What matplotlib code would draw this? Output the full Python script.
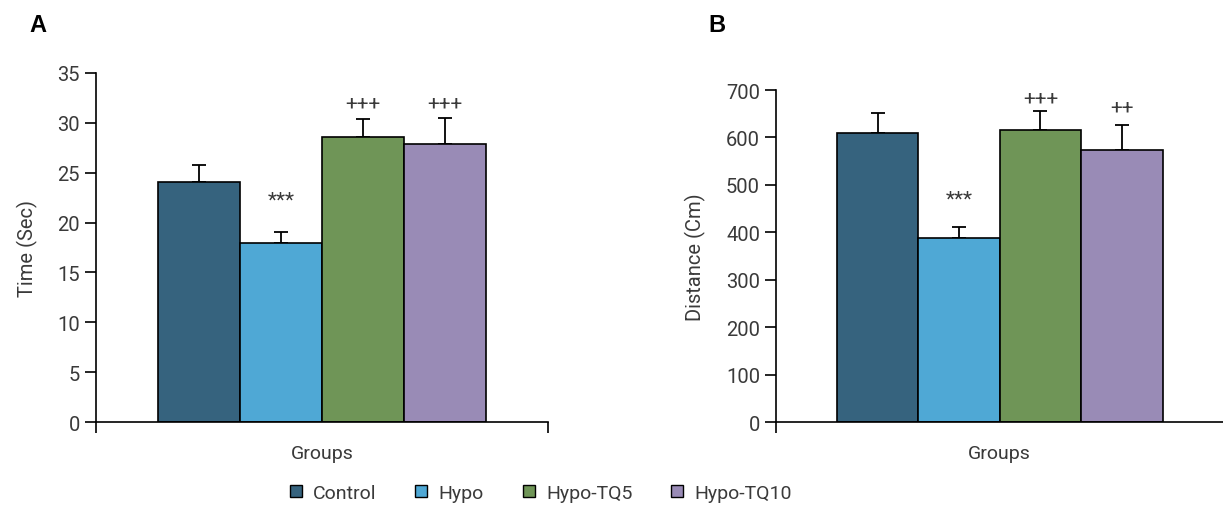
import numpy as np
import matplotlib
matplotlib.use('Agg')
import matplotlib.pyplot as plt
from matplotlib.lines import Line2D

plt.rcParams['font.family'] = ['Roboto', 'DejaVu Sans']
plt.rcParams['font.size'] = 14

groups = ["Control", "Hypo", "Hypo-TQ5", "Hypo-TQ10"]
colors = ["#36637e", "#4fa8d5", "#6f9557", "#998bb6"]

# Panel A: time (sec)
time_means = [24.1, 17.9, 28.6, 27.9]
time_errs = [1.7, 1.1, 1.8, 2.6]
time_marks = ["", "***", "+++", "+++"]
time_mark_y = [None, 22.3, 32.0, 32.0]

# Panel B: distance (cm)
dist_means = [610, 388, 616, 574]
dist_errs = [42, 23, 40, 53]
dist_marks = ["", "***", "+++", "++"]
dist_mark_y = [None, 470, 683, 665]

text_col = "#3a3a3a"


def draw_panel(ax, means, errs, marks, mark_y, ymax, ystep, ylabel):
    x = np.arange(len(groups))
    ax.bar(x, means, width=1.0, color=colors, edgecolor="black", linewidth=1.2, zorder=2)
    ax.errorbar(x, means, yerr=[np.zeros(len(errs)), errs], fmt='none',
                ecolor="black", elinewidth=1.3, capsize=5, capthick=1.3, zorder=1)
    for xi, m, yy in zip(x, marks, mark_y):
        if m:
            ax.text(xi, yy, m, ha='center', va='center', fontsize=15, color=text_col)
    ax.set_xlim(-1.25, 4.25)
    ax.set_ylim(0, ymax)
    ax.set_yticks(np.arange(0, ymax + ystep, ystep))
    ax.set_xticks([-1.25, 4.25])
    ax.set_xticklabels([])
    ax.set_xlabel("Groups", color=text_col, fontsize=14, labelpad=4)
    ax.set_ylabel(ylabel, color=text_col, fontsize=14.5, labelpad=14)
    ax.spines['top'].set_visible(False)
    ax.spines['right'].set_visible(False)
    for s in ['left', 'bottom']:
        ax.spines[s].set_linewidth(1.2)
    ax.tick_params(axis='both', direction='out', length=8, width=1.2,
                   labelsize=14.5, colors='black', labelcolor=text_col)


fig = plt.figure(figsize=(12.23, 5.06), dpi=100)
ax1 = fig.add_axes([0.0785, 0.164, 0.3696, 0.690])
ax2 = fig.add_axes([0.6345, 0.164, 0.3660, 0.656])

draw_panel(ax1, time_means, time_errs, time_marks, time_mark_y, 35, 5, "Time (Sec)")
draw_panel(ax2, dist_means, dist_errs, dist_marks, dist_mark_y, 700, 100, "Distance (Cm)")
ax2.spines['bottom'].set_clip_on(False)

fig.text(0.024, 0.950, "A", fontsize=17, fontweight='bold', family='Liberation Sans', va='center')
fig.text(0.579, 0.950, "B", fontsize=17, fontweight='bold', family='Liberation Sans', va='center')

handles = [Line2D([0], [0], marker='s', linestyle='none', markersize=9,
                  markerfacecolor=c, markeredgecolor='black', markeredgewidth=1.0)
           for c in colors]
fig.legend(handles, groups, loc='center', bbox_to_anchor=(0.44, 0.024), ncol=4,
           frameon=False, fontsize=14, handletextpad=0.3, handlelength=1.2,
           columnspacing=1.7, labelcolor=text_col)

fig.savefig("out.png", dpi=100)
